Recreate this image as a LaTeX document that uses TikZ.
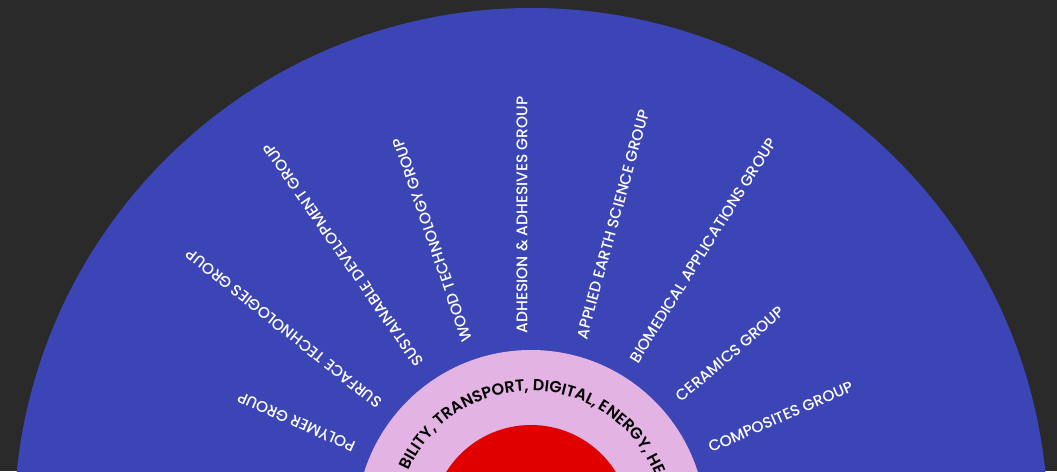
\documentclass[tikz,border=0pt]{standalone}
\usepackage{fontspec}
\setmainfont{Poppins}
\newfontfamily\labelfont{Poppins Medium}
\newfontfamily\ringfont{Poppins SemiBold}
\usepackage{tikz}
\usetikzlibrary{calc}
\usetikzlibrary{decorations.text}
\definecolor{backdrop}{HTML}{2A2A2A}
\definecolor{discblue}{HTML}{3B45B6}
\definecolor{ringpink}{HTML}{E3B3E3}
\definecolor{corered}{HTML}{E00000}
\tikzstyle{grouplabel} = [anchor=west, text=white, inner sep=0pt, font=\labelfont\fontsize{15.4}{17}\selectfont]

\begin{document}
\begin{tikzpicture}[x=1pt,y=1pt]
\useasboundingbox (0,0) rectangle (1057,471);
\clip (0,0) rectangle (1057,471);
\fill[backdrop] (0,0) rectangle (1057,471);

\coordinate (centre) at (531,-54);
\fill[discblue] (centre) circle[radius=517];
\fill[ringpink] (centre) circle[radius=175];
\fill[corered] (centre) circle[radius=100];

% text round the ring
\path[decorate,decoration={text along path,text align=left,
  text={|\ringfont\fontsize{16}{17}\selectfont\color{black}|BILITY, TRANSPORT, DIGITAL, ENERGY, HE}}]
  ($(centre)+(156:134)$) arc[start angle=156,end angle=5,radius=134];

% groups
\node(composites)[grouplabel,rotate=23.4] at ($(centre)+(23.4:194)$) {COMPOSITES GROUP};
\node(ceramics)[grouplabel,rotate=40.6] at ($(centre)+(40.6:194)$) {CERAMICS GROUP};
\node(biomedical)[grouplabel,rotate=57.9] at ($(centre)+(57.9:193)$) {BIOMEDICAL APPLICATIONS GROUP};
\node(earth)[grouplabel,rotate=74.7] at ($(centre)+(74.7:193)$) {APPLIED EARTH SCIENCE GROUP};
\node(adhesion)[grouplabel,rotate=90] at ($(centre)+(92.7:192)$) {ADHESION \& ADHESIVES GROUP};
\node(wood)[grouplabel,rotate=109] at ($(centre)+(109:194)$) {WOOD TECHNOLOGY GROUP};
\node(sustainable)[grouplabel,rotate=124.8] at ($(centre)+(124.8:195)$) {SUSTAINABLE DEVELOPMENT GROUP};
\node(surface)[grouplabel,rotate=141.5] at ($(centre)+(141.5:193)$) {SURFACE TECHNOLOGIES GROUP};
\node(polymer)[grouplabel,rotate=156.3] at ($(centre)+(156.3:193)$) {POLYMER GROUP};
\end{tikzpicture}
\end{document}
